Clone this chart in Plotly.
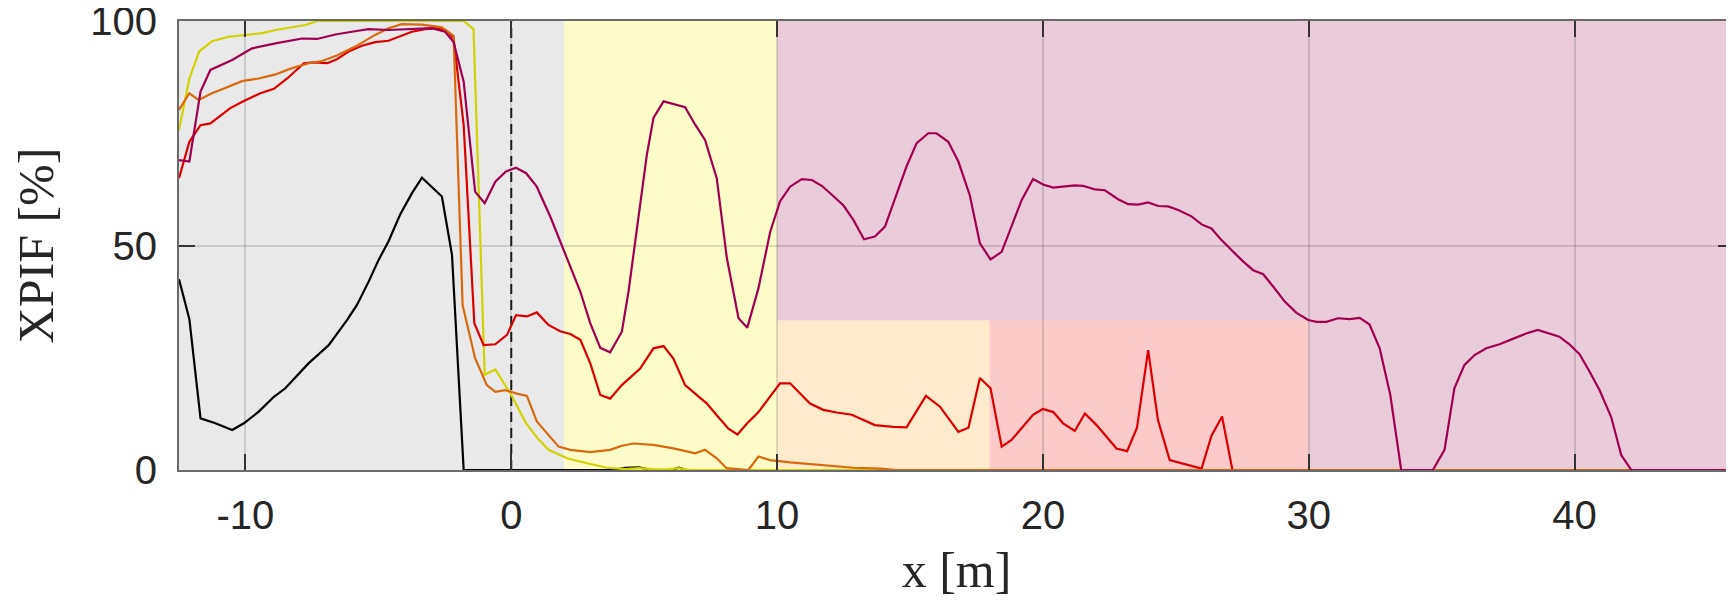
import plotly.graph_objects as go

# ---------------- data ----------------
x_range = [-12.5, 46]
y_range = [0, 100]
x_ticks = [-10, 0, 10, 20, 30, 40]
x_tick_labels = ["-10", "0", "10", "20", "30", "40"]
y_ticks = [0, 50, 100]
y_tick_labels = ["0", "50", "100"]
ref_x = 0

# background zones: (x0, x1, y0, y1, colour)
zone_x0 = [-12.5, 2, 10, 10, 18]
zone_x1 = [2, 10, 46, 18, 30]
zone_y0 = [0, 0, 0, 0, 0]
zone_y1 = [100, 100, 100, 100 / 3, 100 / 3]
zone_col = ["#e9e9e9", "#fdfcc9", "#e9cbd9", "#feebcb", "#fdcaca"]

black_x = [-12.5, -12.11, -11.69, -11.13, -10.5, -10.06, -9.5, -8.93, -8.5, -7.99, -7.62,
           -7.24, -6.87, -6.18, -5.81, -5.37, -4.99, -4.62, -4.18, -3.74, -3.36, -2.61,
           -2.23, -1.79, 3.8, 4.3, 4.8, 5.3, 6.0, 6.3, 6.6, 46]
black_y = [42.5, 33.6, 11.5, 10.4, 8.9, 10.4, 13.0, 16.3, 18.2, 21.5, 23.8,
           25.8, 27.8, 33.4, 36.7, 41.9, 46.8, 50.9, 56.9, 61.6, 65.1, 60.9,
           47.9, 0, 0, 0.5, 0.6, 0, 0, 0.5, 0, 0]

yellow_x = [-12.5, -12.11, -11.74, -11.26, -10.63, -10.0, -9.37, -8.87, -8.37, -7.74,
            -7.31, -1.79, -1.42, -1.0, -0.6, 0.0, 0.55, 1.0, 1.4, 2.1, 2.85, 3.6, 4.3,
            4.8, 5.3, 5.8, 6.3, 6.6, 7.0, 8.0, 46]
yellow_y = [75.7, 87.2, 93.2, 95.5, 96.5, 96.9, 97.3, 98.0, 98.5, 99.1,
            100, 100, 98.2, 21.2, 22.4, 16.7, 10.5, 7.0, 4.5, 2.6, 1.5, 0.5, 0.2,
            0.4, 0.2, 0.1, 0.4, 0.1, 0, 0, 0]

orange_x = [-12.5, -12.11, -11.76, -11.26, -10.76, -10.13, -9.5, -8.87, -8.25, -7.62,
            -7.12, -6.56, -5.87, -5.12, -4.62, -4.12, -3.36, -2.61, -2.17, -1.83,
            -1.36, -0.92, -0.6, -0.23, 0.21, 0.59, 0.96, 1.78, 2.22, 2.97, 3.72,
            4.16, 4.6, 5.35, 6.1, 6.92, 7.29, 7.73, 8.1, 8.92, 9.3, 9.74, 10.49,
            11.6, 12.87, 13.9, 14.5, 46]
orange_y = [80.2, 83.9, 82.4, 83.9, 85.1, 86.6, 87.2, 88.1, 89.5, 90.6,
            91.1, 92.3, 94.3, 96.9, 98.4, 99.3, 99.2, 98.6, 96.7, 36.7,
            24.9, 18.9, 17.4, 17.8, 17.0, 16.5, 10.8, 5.2, 4.5, 4.0, 4.5,
            5.4, 5.9, 5.6, 4.8, 3.7, 4.5, 2.6, 0.4, 0, 3.0, 2.2, 1.7,
            1.2, 0.5, 0.3, 0, 0]

red_x = [-12.5, -12.11, -11.69, -11.32, -10.57, -10.06, -9.44, -8.93, -8.43, -7.8,
         -7.42, -6.92, -6.56, -6.12, -5.62, -5.12, -4.62, -4.12, -3.74, -3.24,
         -2.74, -2.42, -2.17, -1.79, -1.39, -1.04, -0.6, -0.16, 0.18, 0.59,
         0.96, 1.4, 1.84, 2.22, 2.6, 2.97, 3.35, 3.72, 4.16, 4.85,
         5.35, 5.73, 6.1, 6.54, 6.98, 7.36, 7.73, 8.17, 8.51, 8.86,
         9.3, 10.11, 10.49, 11.24, 11.74, 12.24, 12.81, 13.24, 13.68, 14.37,
         14.87, 15.6, 16.13, 16.82, 17.2, 17.63, 18.03, 18.45, 18.82, 19.63,
         20.0, 20.39, 20.76, 21.2, 21.58, 22.02, 22.77, 23.17, 23.54, 23.96,
         24.33, 24.77, 25.97, 26.34, 26.74, 27.13]
red_y = [65.0, 73.1, 76.8, 77.2, 80.6, 82.2, 83.9, 84.9, 87.2, 90.6,
         90.8, 90.6, 91.5, 93.2, 94.5, 95.3, 95.6, 96.7, 97.6, 98.2,
         98.4, 97.8, 96.1, 76.8, 32.7, 27.8, 28.0, 30.1, 34.5, 34.2,
         35.1, 32.3, 30.9, 30.3, 29.0, 23.8, 16.7, 15.9, 18.9, 22.6,
         27.1, 27.6, 24.8, 18.9, 16.7, 14.8, 12.2, 9.2, 7.9, 10.3,
         12.9, 19.3, 19.3, 14.8, 13.4, 12.8, 12.3, 11.1, 10.0, 9.6,
         9.5, 16.5, 14.1, 8.5, 9.4, 20.5, 18.2, 5.2, 6.7, 12.3,
         13.6, 12.9, 10.4, 8.7, 12.6, 10.0, 4.8, 4.2, 9.4, 26.7,
         11.1, 2.2, 0.3, 7.6, 11.9, 0]

purple_x = [-12.5, -12.11, -11.69, -11.32, -10.5, -9.75, -8.87, -7.87, -7.31, -6.62,
            -6.0, -5.37, -4.62, -3.87, -2.99, -2.49, -2.17, -1.79, -1.36, -1.0,
            -0.6, -0.2, 0.18, 0.56, 0.96, 1.47, 1.97, 2.6, 2.97, 3.35,
            3.72, 4.16, 4.41, 4.72, 5.1, 5.35, 5.73, 6.54, 6.92, 7.29,
            7.73, 8.11, 8.55, 8.88, 9.3, 9.74, 10.11, 10.49, 10.93, 11.31,
            11.68, 12.06, 12.5, 12.87, 13.27, 13.68, 14.06, 14.44, 14.87, 15.25,
            15.69, 16.0, 16.44, 16.82, 17.25, 17.63, 18.03, 18.45, 18.82, 19.2,
            19.63, 20.01, 20.39, 20.76, 21.2, 21.51, 21.95, 22.33, 22.83, 23.21,
            23.58, 23.96, 24.34, 24.71, 25.09, 25.59, 25.97, 26.34, 26.72, 27.16,
            27.54, 27.91, 28.29, 28.67, 29.1, 29.54, 29.98, 30.29, 30.67, 31.1,
            31.54, 31.92, 32.29, 32.67, 33.07, 33.48, 34.67, 35.11, 35.48, 35.86,
            36.24, 36.68, 37.18, 37.68, 38.18, 38.62, 39.06, 39.43, 39.81, 40.19,
            40.57, 40.94, 41.38, 41.76, 42.14, 46]
purple_y = [69.0, 68.7, 84.3, 89.1, 91.3, 93.9, 95.0, 96.1, 96.0, 97.0,
            97.6, 98.2, 98.0, 98.2, 98.4, 97.6, 95.3, 86.5, 62.0, 59.4,
            64.2, 66.5, 67.3, 66.1, 63.1, 56.4, 49.0, 39.7, 32.7, 27.2,
            26.2, 30.8, 39.7, 53.1, 70.2, 78.4, 82.1, 80.8, 76.9, 73.5,
            65.0, 47.2, 33.8, 31.7, 40.5, 53.0, 59.8, 63.1, 64.8, 64.6,
            63.3, 61.3, 58.9, 55.7, 51.4, 52.0, 54.2, 60.5, 67.6, 72.8,
            75.0, 75.0, 73.1, 68.7, 61.2, 50.5, 46.9, 48.6, 54.2, 60.1,
            64.8, 63.6, 62.9, 63.2, 63.4, 63.3, 62.5, 62.3, 60.3, 59.2,
            59.1, 59.6, 58.8, 58.7, 57.9, 56.5, 54.7, 53.8, 51.2, 48.6,
            46.4, 44.5, 43.6, 40.8, 37.5, 35.0, 33.4, 33.0, 33.0, 33.8,
            33.6, 33.9, 32.4, 27.1, 16.7, 0, 0, 4.5, 18.2, 23.4,
            25.6, 27.1, 28.0, 29.2, 30.4, 31.2, 30.4, 29.7, 28.0, 25.8,
            21.9, 17.8, 11.8, 3.3, 0, 0]

series = [
    ("black", black_x, black_y, "#000000"),
    ("yellow", yellow_x, yellow_y, "#d2d200"),
    ("red", red_x, red_y, "#dd0000"),
    ("orange", orange_x, orange_y, "#d9690f"),
    ("purple", purple_x, purple_y, "#a0004f"),
]
for name, sx, sy, _ in series:
    assert len(sx) == len(sy), name

# ---------------- figure ----------------
fig = go.Figure()
for name, sx, sy, col in series:
    fig.add_trace(go.Scatter(x=sx, y=sy, mode="lines", name=name,
                             line=dict(color=col, width=2.2), showlegend=False,
                             hoverinfo="skip"))

shapes = []
for x0, x1, y0, y1, c in zip(zone_x0, zone_x1, zone_y0, zone_y1, zone_col):
    shapes.append(dict(type="rect", xref="x", yref="y", x0=x0, x1=x1, y0=y0, y1=y1,
                       fillcolor=c, line=dict(width=0), layer="below"))
shapes.append(dict(type="line", xref="x", yref="y", x0=ref_x, x1=ref_x,
                   y0=y_range[0], y1=y_range[1],
                   line=dict(color="#1a1a1a", width=2, dash="10px,6px"), layer="between"))

tick_font = dict(family="Liberation Sans, Arial, sans-serif", size=40, color="#262626")
title_font = dict(family="Liberation Serif, Times New Roman, serif", size=50, color="#262626")

# page body has an 8px margin; figure is sized so the plot fills the window's right edge
fig.update_layout(
    width=1726, height=595,
    margin=dict(l=171, r=0, t=13, b=133, autoexpand=False),
    paper_bgcolor="white", plot_bgcolor="white",
    shapes=shapes,
    xaxis=dict(range=x_range, tickvals=x_ticks, ticktext=x_tick_labels,
               ticks="inside", ticklen=16, tickwidth=2,
               tickcolor="#333333", showline=True, linecolor="#6a6a6a", linewidth=2,
               mirror="allticks", showgrid=True, gridcolor="rgba(0,0,0,0.13)", gridwidth=2,
               zeroline=False, tickfont=tick_font, ticklabelstandoff=9,
               ticklabeloverflow="allow", automargin=False,
               title=dict(text="x [m]", font=title_font, standoff=16)),
    yaxis=dict(range=y_range, tickvals=y_ticks, ticktext=y_tick_labels,
               ticks="inside", ticklen=16, tickwidth=2,
               tickcolor="#333333", showline=True, linecolor="#6a6a6a", linewidth=2,
               mirror="allticks", showgrid=True, gridcolor="rgba(0,0,0,0.13)", gridwidth=2,
               zeroline=False, tickfont=tick_font, ticklabelstandoff=12,
               ticklabeloverflow="allow", automargin=False,
               title=dict(text="XPIF [%]", font=title_font, standoff=40)),
)

fig.write_html("out.html")
